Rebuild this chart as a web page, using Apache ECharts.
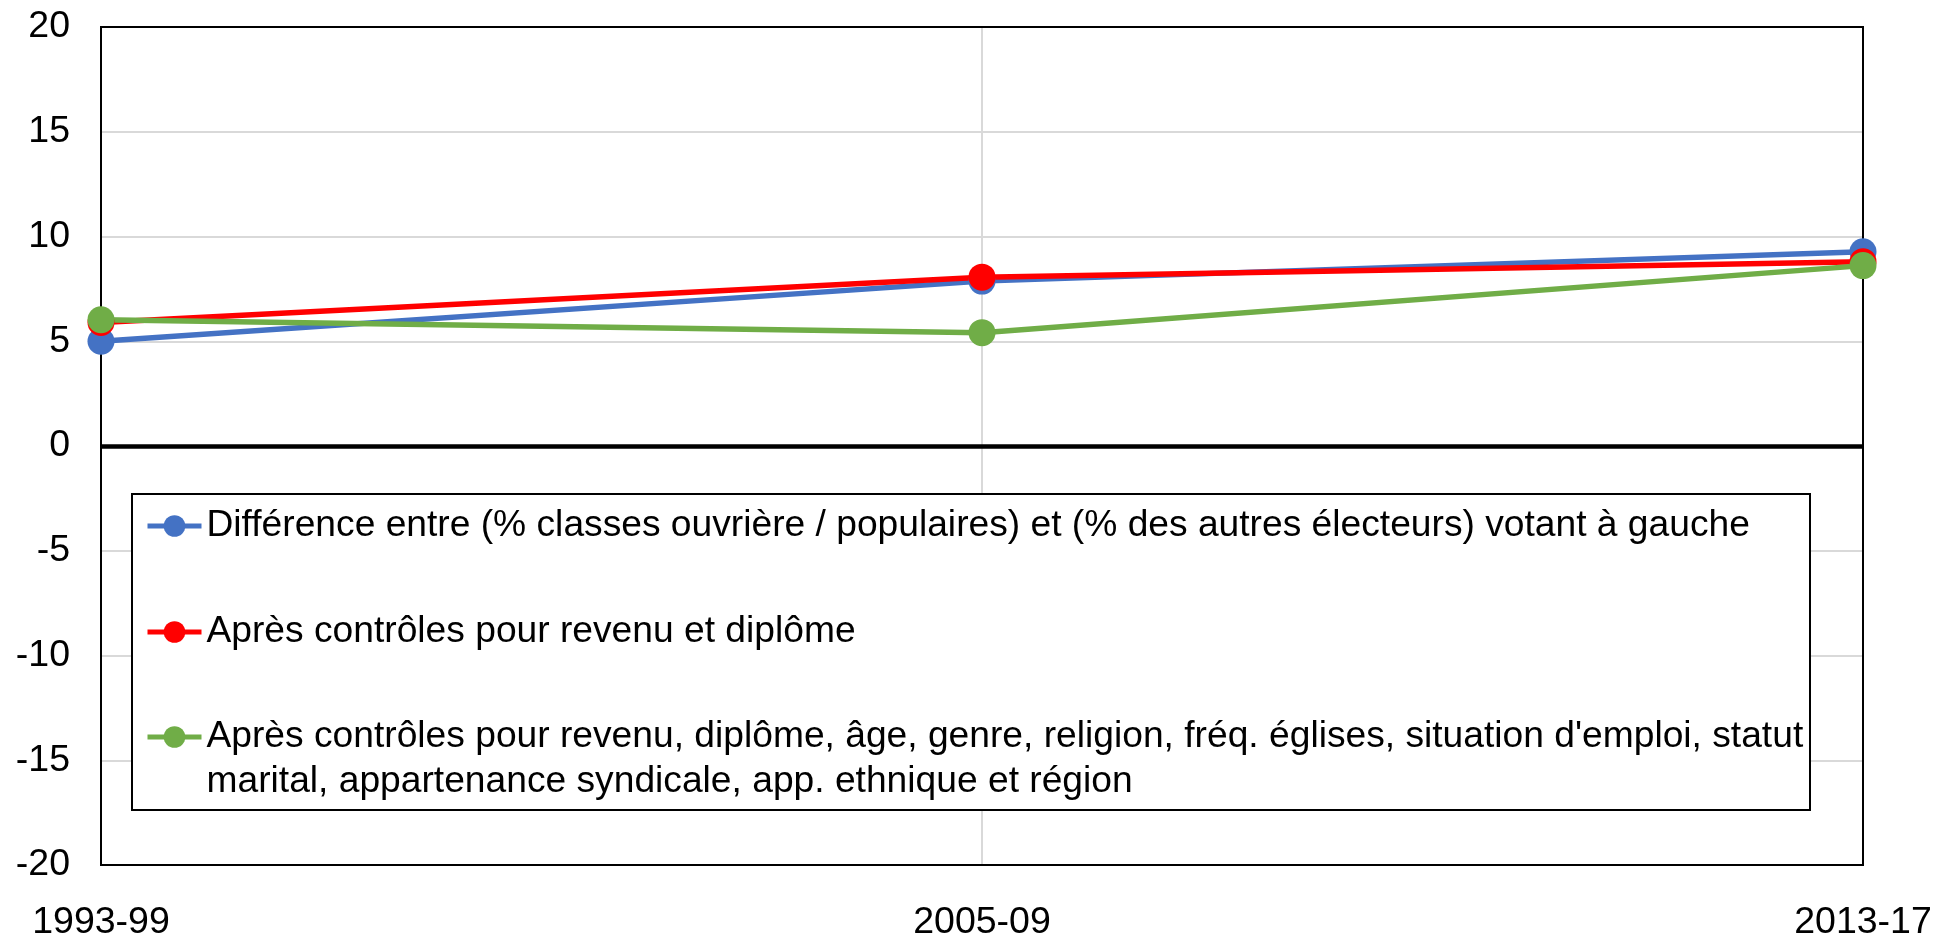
<!DOCTYPE html>
<html>
<head>
<meta charset="utf-8">
<script src="https://cdn.jsdelivr.net/npm/echarts@6/dist/echarts.min.js"></script>
<style>
  html, body { margin: 0; padding: 0; background: #fff; }
  #chart { width: 1937px; height: 936px; }
</style>
</head>
<body>
<div id="chart"></div>
<script>
  // periods on the x axis
  const periods = ["1993-99", "2005-09", "2013-17"];

  const seriesNames = [
    "Différence entre (% classes ouvrière / populaires) et (% des autres électeurs) votant à gauche",
    "Après contrôles pour revenu et diplôme",
    "Après contrôles pour revenu, diplôme, âge, genre, religion, fréq. églises, situation d'emploi, statut marital, appartenance syndicale, app. ethnique et région",
  ];

  // values
  const rawGap = [5.0, 7.87, 9.27];
  const gapIncomeDiploma = [5.9, 8.06, 8.8];
  const gapAllControls = [6.03, 5.41, 8.61];

  const yTicks = { min: -20, max: 20, step: 5 };

  const colors = ["#4472C4", "#FF0000", "#70AD47"];
  const font = "'Liberation Sans', Arial, sans-serif";

  const chart = echarts.init(document.getElementById("chart"));

  function lineSeries(name, data, color, extra) {
    return Object.assign({
      name: name,
      type: "line",
      data: data,
      symbol: "circle",
      symbolSize: 27,
      lineStyle: { color: color, width: 5.5 },
      itemStyle: { color: color },
      z: 5,
      animation: false,
    }, extra || {});
  }

  // one legend per row; the long one wraps and keeps its icon on the first line
  // (a blank line on top puts the first text line in the middle, next to the icon)
  function legendRow(name, top) {
    return {
      data: [name],
      orient: "vertical",
      left: 145,
      top: top,
      padding: 0,
      itemWidth: 54,
      itemHeight: 27,
      selectedMode: false,
      z: 10,
      lineStyle: { width: 5 },
      formatter: function (n) {
        if (n.indexOf(" marital") < 0) return n;
        return "\n" + n.replace(" marital", "\nmarital");
      },
      textStyle: {
        fontFamily: font,
        fontSize: 37.2,
        lineHeight: 45,
        color: "#000",
      },
    };
  }

  const option = {
    backgroundColor: "#fff",
    animation: false,
    grid: {
      left: 101,
      right: 74,
      top: 27,
      bottom: 71,
      show: false,
      outerBoundsMode: "none",
      containLabel: false,
    },
    graphic: [
      {
        // plot frame
        type: "rect",
        shape: { x: 101, y: 27, width: 1762, height: 838 },
        style: { fill: "none", stroke: "#000", lineWidth: 2 },
        z: 4,
        silent: true,
      },
      {
        // legend box
        type: "rect",
        shape: { x: 132, y: 494, width: 1678, height: 316 },
        style: { fill: "#fff", stroke: "#000", lineWidth: 2 },
        z: 6,
        silent: true,
      },
    ],
    legend: [
      legendRow(seriesNames[0], 503.5),
      legendRow(seriesNames[1], 609.5),
      legendRow(seriesNames[2], 669.5),
    ],
    xAxis: {
      type: "category",
      data: periods,
      boundaryGap: false,
      axisLine: { show: false },
      axisTick: { show: false },
      axisLabel: {
        interval: 0,
        margin: 39,
        fontFamily: font,
        fontSize: 37.5,
        color: "#000",
      },
      splitLine: { show: true, lineStyle: { color: "#D9D9D9", width: 2 } },
    },
    yAxis: {
      type: "value",
      min: yTicks.min,
      max: yTicks.max,
      interval: yTicks.step,
      axisLine: { show: false },
      axisTick: { show: false },
      axisLabel: {
        margin: 31,
        fontFamily: font,
        fontSize: 37.5,
        color: "#000",
      },
      splitLine: { show: true, lineStyle: { color: "#D9D9D9", width: 2 } },
    },
    series: [
      lineSeries(seriesNames[0], rawGap, colors[0], {
        markLine: {
          silent: true,
          symbol: "none",
          label: { show: false },
          lineStyle: { color: "#000", width: 4.5, type: "solid" },
          data: [{ yAxis: 0 }],
          animation: false,
        },
      }),
      lineSeries(seriesNames[1], gapIncomeDiploma, colors[1]),
      lineSeries(seriesNames[2], gapAllControls, colors[2]),
    ],
  };

  chart.setOption(option);
</script>
</body>
</html>
